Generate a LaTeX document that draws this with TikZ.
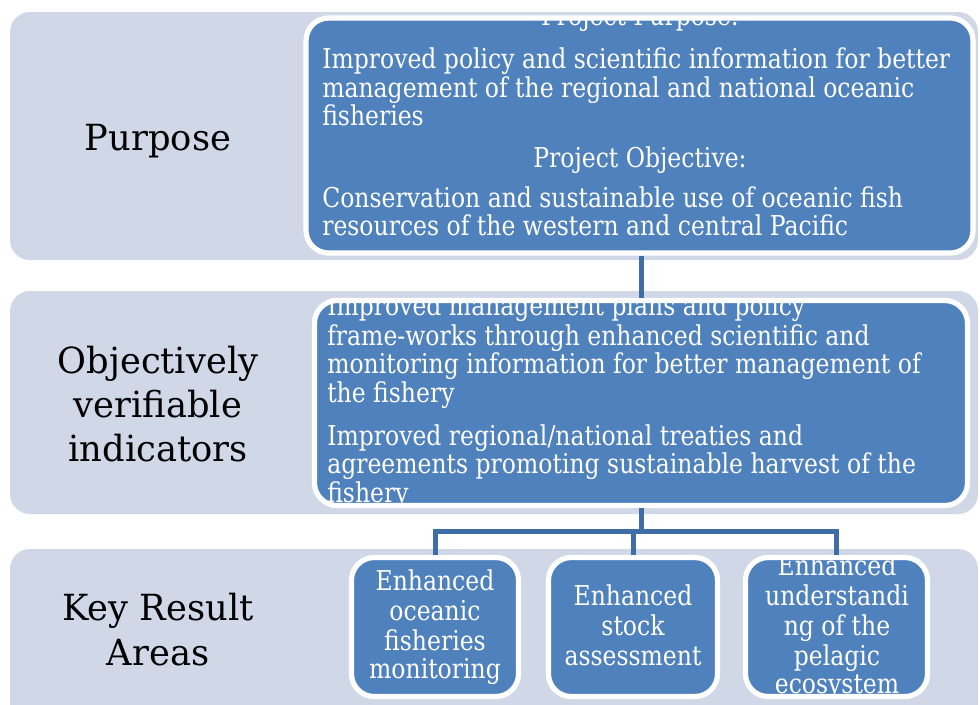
\documentclass[tikz,border=0pt]{standalone}
\usepackage{fontspec}
\setmainfont{DejaVu Serif}
\newfontfamily\boxfont[FakeStretch=0.86]{DejaVu Serif}
\newfontfamily\labfont[FakeStretch=0.98]{DejaVu Serif}
\usetikzlibrary{fit}
\definecolor{bandc}{HTML}{D0D8E8}
\definecolor{boxblue}{HTML}{4F81BD}
\definecolor{connc}{HTML}{3F6DA6}
\begin{document}
\begin{tikzpicture}[x=0.75pt,y=-0.75pt,
  bandshape/.style={fill=bandc, rounded corners=15pt},
  bluebox/.style={fill=boxblue, draw=white, line width=3.9pt, rounded corners=17pt, inner sep=0pt},
  connector/.style={draw=connc, line width=3.75pt},
  btxt/.style={text=white, font=\boxfont\fontsize{20.5}{22}\selectfont, inner sep=0pt},
  ltxt/.style={text=black, font=\labfont\fontsize{27}{33}\selectfont, inner sep=0pt, anchor=base}]
\useasboundingbox (0,0) rectangle (980,704);
\clip (0,0) rectangle (980,704);
% bands
\fill[bandshape] (10,12) rectangle (978,260);
\fill[bandshape] (10,291) rectangle (978,514);
\fill[bandshape] (10,549) rectangle (978,740);
% left labels
\node[ltxt] (lp) at (158,150) {Purpose};
\node[ltxt] (lo1) at (158,373) {Objectively};
\node[ltxt] (lo2) at (158,417) {verifiable};
\node[ltxt] (lo3) at (158,461) {indicators};
\node[ltxt] (lk1) at (158,620) {Key Result};
\node[ltxt] (lk2) at (158,665) {Areas};
% boxes
\node[bluebox, fit={(306,18) (973,253)}] (pp) {};
\node[bluebox, fit={(314.5,300.5) (967.5,505.5)}] (ovi) {};
\node[bluebox, fit={(351.5,557.5) (518.5,696.5)}] (k1) {};
\node[bluebox, fit={(548.5,557.5) (717.5,696.5)}] (k2) {};
\node[bluebox, fit={(745.5,557.5) (927.5,696.5)}] (k3) {};
% connectors
\coordinate (bar) at (640,531);
\draw[connector] (ovi.north |- pp.south) -- (ovi.north);
\draw[connector] (ovi.south) -- (ovi.south |- bar);
\draw[connector, line join=miter] (k1.north) -- (k1.north |- bar) -- (k3.north |- bar) -- (k3.north);
\draw[connector] (k2.north) -- (k2.north |- bar);
% purpose text
\begin{scope}
\clip[rounded corners=17pt] (pp.north west) rectangle (pp.south east);
\node[btxt, anchor=base] (pt0) at (640,25) {Project Purpose:};
\node[btxt, anchor=base west] (pt1) at (322,68) {Improved policy and scientific information for better};
\node[btxt, anchor=base west] (pt2) at (322,97) {management of the regional and national oceanic};
\node[btxt, anchor=base west] (pt3) at (322,125) {fisheries};
\node[btxt, anchor=base] (pt4) at (640,167) {Project Objective:};
\node[btxt, anchor=base west] (pt5) at (322,207) {Conservation and sustainable use of oceanic fish};
\node[btxt, anchor=base west] (pt6) at (322,235) {resources of the western and central Pacific};
\end{scope}
% ovi text
\begin{scope}
\clip[rounded corners=17pt] (ovi.north west) rectangle (ovi.south east);
\node[btxt, anchor=base west] (ot1) at (327,315) {Improved management plans and policy};
\node[btxt, anchor=base west] (ot2) at (327,345) {frame-works through enhanced scientific and};
\node[btxt, anchor=base west] (ot3) at (327,373) {monitoring information for better management of};
\node[btxt, anchor=base west] (ot4) at (327,402) {the fishery};
\node[btxt, anchor=base west] (ot5) at (327,445) {Improved regional/national treaties and};
\node[btxt, anchor=base west] (ot6) at (327,473) {agreements promoting sustainable harvest of the};
\node[btxt, anchor=base west] (ot7) at (327,502) {fishery};
\end{scope}
% key result text
\begin{scope}
\clip[rounded corners=17pt] (k1.north west) rectangle (k1.south east);
\node[btxt, anchor=base] (a1) at (435,590) {Enhanced};
\node[btxt, anchor=base] (a2) at (435,620) {oceanic};
\node[btxt, anchor=base] (a3) at (435,650) {fisheries};
\node[btxt, anchor=base] (a4) at (435,678) {monitoring};
\end{scope}
\begin{scope}
\clip[rounded corners=17pt] (k2.north west) rectangle (k2.south east);
\node[btxt, anchor=base] (b1) at (633,605) {Enhanced};
\node[btxt, anchor=base] (b2) at (633,635) {stock};
\node[btxt, anchor=base] (b3) at (633,665) {assessment};
\end{scope}
\begin{scope}
\clip[rounded corners=17pt] (k3.north west) rectangle (k3.south east);
\node[btxt, anchor=base] (c1) at (837,575) {Enhanced};
\node[btxt, anchor=base] (c2) at (837,605) {understandi};
\node[btxt, anchor=base] (c3) at (837,635) {ng of the};
\node[btxt, anchor=base] (c4) at (837,665) {pelagic};
\node[btxt, anchor=base] (c5) at (837,693) {ecosystem};
\end{scope}
\end{tikzpicture}
\end{document}
